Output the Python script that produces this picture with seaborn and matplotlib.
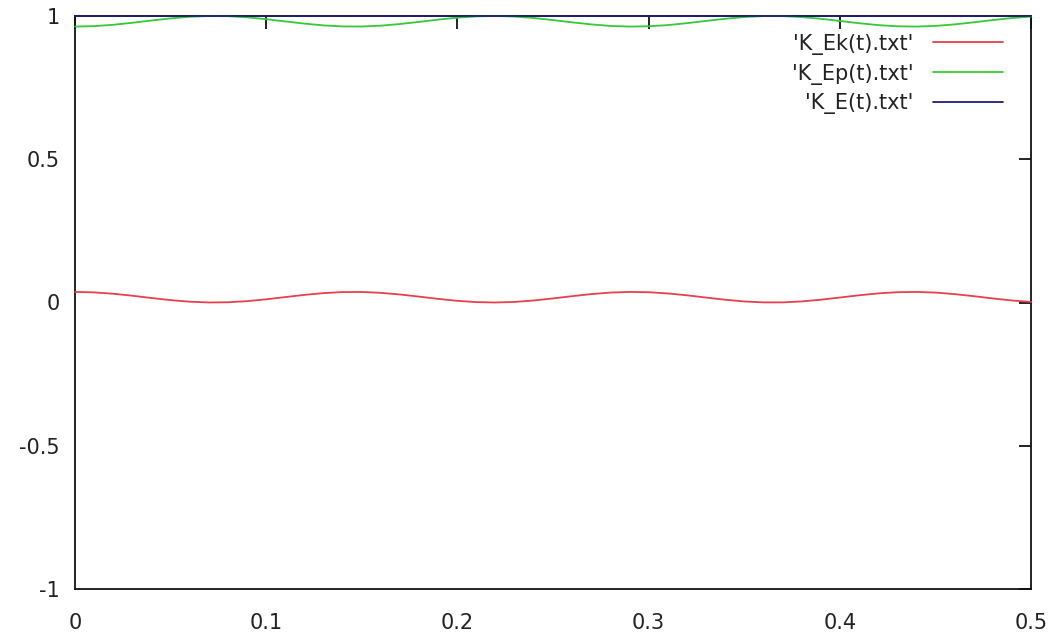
import numpy as np
import pandas as pd
import matplotlib
matplotlib.use("Agg")
import matplotlib.pyplot as plt
import seaborn as sns

# time samples (s)
t = [0.00, 0.01, 0.02, 0.03, 0.04, 0.05, 0.06, 0.07, 0.08, 0.09,
     0.10, 0.11, 0.12, 0.13, 0.14, 0.15, 0.16, 0.17, 0.18, 0.19,
     0.20, 0.21, 0.22, 0.23, 0.24, 0.25, 0.26, 0.27, 0.28, 0.29,
     0.30, 0.31, 0.32, 0.33, 0.34, 0.35, 0.36, 0.37, 0.38, 0.39,
     0.40, 0.41, 0.42, 0.43, 0.44, 0.45, 0.46, 0.47, 0.48, 0.49,
     0.50]

# kinetic energy fraction
k_ek = [0.0370, 0.0353, 0.0306, 0.0236, 0.0157, 0.0083, 0.0028, 0.0001, 0.0008, 0.0047,
        0.0112, 0.0189, 0.0266, 0.0328, 0.0364, 0.0367, 0.0337, 0.0280, 0.0205, 0.0126,
        0.0058, 0.0014, 0.0000, 0.0020, 0.0071, 0.0142, 0.0221, 0.0293, 0.0346, 0.0369,
        0.0359, 0.0317, 0.0251, 0.0173, 0.0097, 0.0037, 0.0004, 0.0004, 0.0037, 0.0097,
        0.0173, 0.0251, 0.0317, 0.0359, 0.0369, 0.0346, 0.0293, 0.0221, 0.0142, 0.0071,
        0.0020]

# potential energy fraction
k_ep = [0.9630, 0.9647, 0.9694, 0.9764, 0.9843, 0.9917, 0.9972, 0.9999, 0.9992, 0.9953,
        0.9888, 0.9811, 0.9734, 0.9672, 0.9636, 0.9633, 0.9663, 0.9720, 0.9795, 0.9874,
        0.9942, 0.9986, 1.0000, 0.9980, 0.9929, 0.9858, 0.9779, 0.9707, 0.9654, 0.9631,
        0.9641, 0.9683, 0.9749, 0.9827, 0.9903, 0.9963, 0.9996, 0.9996, 0.9963, 0.9903,
        0.9827, 0.9749, 0.9683, 0.9641, 0.9631, 0.9654, 0.9707, 0.9779, 0.9858, 0.9929,
        0.9980]

# total energy
k_e = [1.0] * len(t)

labels = ["'K_Ek(t).txt'", "'K_Ep(t).txt'", "'K_E(t).txt'"]
colors = ["#e5404c", "#35c935", "#1c1f78"]

df = pd.concat([
    pd.DataFrame({"t": t, "value": k_ek, "series": labels[0]}),
    pd.DataFrame({"t": t, "value": k_ep, "series": labels[1]}),
    pd.DataFrame({"t": t, "value": k_e, "series": labels[2]}),
], ignore_index=True)

sns.set_theme(style="white")
plt.rcParams["font.family"] = ["DejaVu Sans"]

fig = plt.figure(figsize=(10.62, 6.36), dpi=100)
ax = fig.add_axes([75 / 1062, 47 / 636, 956 / 1062, 573 / 636])

sns.lineplot(data=df, x="t", y="value", hue="series", palette=colors,
             hue_order=labels, linewidth=1.3, ax=ax, estimator=None, sort=False)

# draw curves above the frame so the total-energy line shows along the top edge
for line in ax.get_lines():
    line.set_zorder(3)
    line.set_clip_on(False)

ax.set_xlim(0, 0.5)
ax.set_ylim(-1, 1)
ax.set_xticks([0, 0.1, 0.2, 0.3, 0.4, 0.5])
ax.set_xticklabels(["0", "0.1", "0.2", "0.3", "0.4", "0.5"])
ax.set_yticks([-1, -0.5, 0, 0.5, 1])
ax.set_yticklabels(["-1", "-0.5", "0", "0.5", "1"])
ax.set_xlabel("")
ax.set_ylabel("")

for s in ax.spines.values():
    s.set_visible(True)
    s.set_color("#111111")
    s.set_linewidth(1.3)

ax.tick_params(axis="both", direction="in", length=9, width=1.3, color="#111111",
               labelsize=15, labelcolor="#222222", top=True, right=True)
ax.tick_params(axis="x", pad=17)
ax.tick_params(axis="y", pad=11)

leg = ax.legend(loc="upper right", bbox_to_anchor=(0.9707, 0.969), frameon=False,
                markerfirst=False, fontsize=15, handlelength=3.35, handletextpad=0.95,
                labelspacing=0.42, borderpad=0, borderaxespad=0)
for txt in leg.get_texts():
    txt.set_color("#222222")

fig.savefig("out.png", dpi=100, facecolor="white")
